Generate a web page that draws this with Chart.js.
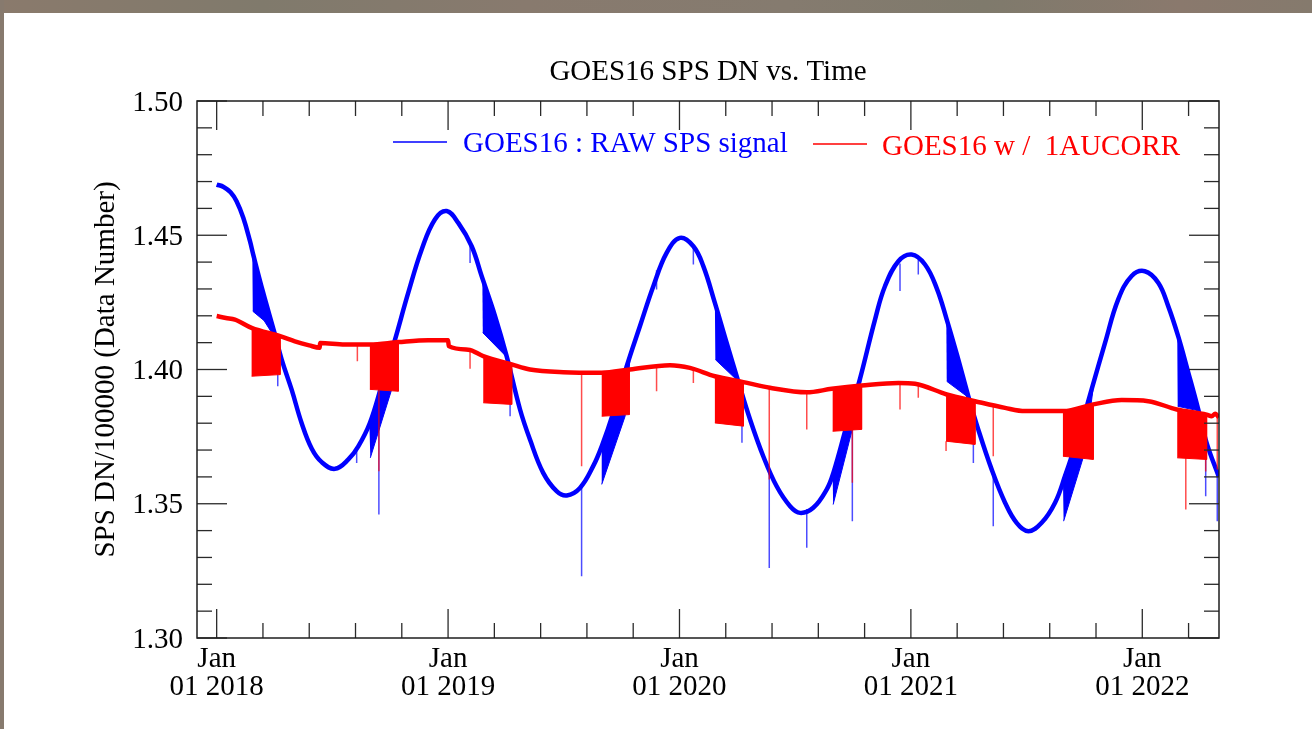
<!DOCTYPE html>
<html><head><meta charset="utf-8">
<script src="https://cdn.jsdelivr.net/npm/chart.js@4.4.1/dist/chart.umd.min.js"></script>
<style>
html,body{margin:0;padding:0;background:#fff;overflow:hidden;}
#wrap{position:relative;width:1312px;height:729px;background:#fff;}
#topbar{position:absolute;left:0;top:0;width:1312px;height:13px;background:linear-gradient(90deg,#8a7a6c 0%,#807a6c 20%,#887a6e 40%,#857b6f 60%,#7f7a6c 75%,#8a796d 90%,#857a6d 100%);}
#leftbar{position:absolute;left:0;top:0;width:4px;height:729px;background:#877a6e;}
canvas{position:absolute;left:0;top:0;}
</style></head><body>
<div id="wrap"><div id="topbar"></div><div id="leftbar"></div><canvas id="c" width="1312" height="729"></canvas></div>
<script>
// ---- data (time in fractional years) ----
const rawT = [2018.000,2018.030,2018.060,2018.086,2018.115,2018.144,2018.158,2018.201,2018.252,2018.281,2018.324,2018.367,2018.411,2018.454,2018.511,2018.569,2018.612,2018.662,2018.713,2018.771,2018.828,2018.886,2018.943,2018.994,2019.044,2019.102,2019.145,2019.203,2019.253,2019.311,2019.354,2019.411,2019.469,2019.513,2019.570,2019.627,2019.664,2019.714,2019.772,2019.829,2019.887,2019.945,2020.002,2020.060,2020.103,2020.153,2020.204,2020.254,2020.305,2020.362,2020.420,2020.478,2020.521,2020.578,2020.636,2020.665,2020.722,2020.780,2020.845,2020.888,2020.946,2021.003,2021.061,2021.111,2021.155,2021.205,2021.248,2021.291,2021.349,2021.407,2021.457,2021.508,2021.565,2021.623,2021.666,2021.723,2021.781,2021.839,2021.896,2021.954,2022.011,2022.069,2022.112,2022.155,2022.199,2022.242,2022.278,2022.331];
const rawV = [1.4689,1.4680,1.4660,1.4627,1.4565,1.4478,1.4428,1.4286,1.4130,1.4037,1.3925,1.3801,1.3705,1.3655,1.3630,1.3665,1.3714,1.3801,1.3942,1.4112,1.4286,1.4447,1.4559,1.4590,1.4546,1.4459,1.4348,1.4199,1.4050,1.3851,1.3739,1.3615,1.3547,1.3531,1.3559,1.3640,1.3714,1.3839,1.4012,1.4161,1.4310,1.4435,1.4490,1.4459,1.4385,1.4248,1.4099,1.3956,1.3814,1.3677,1.3565,1.3491,1.3466,1.3485,1.3553,1.3615,1.3790,1.3965,1.4186,1.4310,1.4403,1.4428,1.4391,1.4304,1.4186,1.4037,1.3901,1.3777,1.3628,1.3504,1.3429,1.3398,1.3429,1.3504,1.3603,1.3752,1.3926,1.4099,1.4261,1.4348,1.4366,1.4323,1.4236,1.4124,1.3988,1.3851,1.3727,1.3600];

const corrT = [2018.000,2018.040,2018.079,2018.151,2018.274,2018.338,2018.400,2018.445,2018.447,2018.554,2018.662,2018.785,2018.914,2019.000,2019.003,2019.087,2019.152,2019.275,2019.354,2019.498,2019.664,2019.786,2019.959,2020.045,2020.153,2020.276,2020.391,2020.550,2020.658,2020.787,2020.946,2021.018,2021.155,2021.277,2021.407,2021.493,2021.659,2021.788,2021.911,2022.026,2022.149,2022.278,2022.300,2022.315,2022.331];
const corrV = [1.4199,1.4192,1.4186,1.4155,1.4124,1.4105,1.4090,1.4081,1.4099,1.4093,1.4093,1.4102,1.4109,1.4109,1.4087,1.4074,1.4050,1.4019,1.4000,1.3990,1.3988,1.4000,1.4016,1.4006,1.3975,1.3953,1.3932,1.3915,1.3928,1.3940,1.3950,1.3947,1.3907,1.3882,1.3857,1.3845,1.3845,1.3870,1.3886,1.3882,1.3851,1.3832,1.3826,1.3835,1.3822];

// seasonal oscillation envelopes (outline vertices, [time, value])
const blueBands = [
  [[2018.154,1.4440],[2018.201,1.4286],[2018.259,1.4108],[2018.205,1.4182],[2018.156,1.4217]],
  [[2018.660,1.3795],[2018.713,1.3942],[2018.775,1.4125],[2018.756,1.3925],[2018.664,1.3671]],
  [[2019.148,1.4345],[2019.203,1.4199],[2019.255,1.4045],[2019.150,1.4137]],
  [[2019.664,1.3714],[2019.714,1.3839],[2019.787,1.4050],[2019.765,1.3826],[2019.664,1.3572]],
  [[2020.153,1.4248],[2020.204,1.4099],[2020.254,1.3956],[2020.155,1.4037]],
  [[2020.662,1.3608],[2020.722,1.3790],[2020.790,1.3995],[2020.765,1.3839],[2020.664,1.3497]],
  [[2021.153,1.4190],[2021.205,1.4037],[2021.250,1.3895],[2021.155,1.3956]],
  [[2021.657,1.3595],[2021.723,1.3752],[2021.790,1.3945],[2021.751,1.3690],[2021.660,1.3435]],
  [[2022.151,1.4137],[2022.199,1.3988],[2022.249,1.3845],[2022.153,1.3863]]
];
const redBands = [
  [[2018.151,1.4155],[2018.274,1.4124],[2018.274,1.3981],[2018.151,1.3975]],
  [[2018.662,1.4093],[2018.785,1.4102],[2018.785,1.3919],[2018.662,1.3926]],
  [[2019.152,1.4050],[2019.275,1.4019],[2019.275,1.3870],[2019.152,1.3876]],
  [[2019.664,1.3988],[2019.783,1.4000],[2019.783,1.3832],[2019.664,1.3826]],
  [[2020.153,1.3975],[2020.276,1.3953],[2020.276,1.3789],[2020.153,1.3801]],
  [[2020.662,1.3928],[2020.787,1.3940],[2020.787,1.3777],[2020.662,1.3770]],
  [[2021.152,1.3907],[2021.277,1.3882],[2021.277,1.3721],[2021.152,1.3733]],
  [[2021.657,1.3845],[2021.788,1.3870],[2021.788,1.3665],[2021.657,1.3677]],
  [[2022.151,1.3851],[2022.278,1.3832],[2022.278,1.3665],[2022.151,1.3671]]
];
// dropouts: [time, from, to]
const blueSpikes = [[2018.264,1.4080,1.3938],[2018.605,1.3705,1.3652],[2018.701,1.3900,1.3460],[2019.095,1.4470,1.4397],[2019.268,1.4000,1.3826],[2019.577,1.3565,1.3230],[2019.901,1.4370,1.4298],[2020.060,1.4459,1.4391],[2020.270,1.3930,1.3727],[2020.388,1.3640,1.3261],[2020.550,1.3480,1.3336],[2020.747,1.3850,1.3435],[2020.953,1.4395,1.4292],[2021.032,1.4420,1.4354],[2021.270,1.3800,1.3652],[2021.356,1.3615,1.3416],[2022.274,1.3740,1.3528],[2022.324,1.3620,1.3435]];
const redSpikes = [[2018.608,1.4092,1.4031],[2018.701,1.3925,1.3621],[2019.095,1.4075,1.4003],[2019.577,1.3990,1.3640],[2019.901,1.4012,1.3919],[2020.060,1.4005,1.3950],[2020.388,1.3932,1.3590],[2020.550,1.3915,1.3777],[2020.747,1.3775,1.3578],[2020.953,1.3950,1.3851],[2021.032,1.3947,1.3895],[2021.152,1.3733,1.3696],[2021.356,1.3865,1.3677],[2022.188,1.3670,1.3479],[2022.274,1.3670,1.3620],[2022.324,1.3826,1.3628]];

const yTickValues = [1.30,1.35,1.40,1.45,1.50];
const yTickLabels = ['1.30','1.35','1.40','1.45','1.50'];
const yMinorStep = 0.01;
const xTickYears = [2018,2019,2020,2021,2022];
const xTickLabels = [['Jan','01 2018'],['Jan','01 2019'],['Jan','01 2020'],['Jan','01 2021'],['Jan','01 2022']];
const xMinorPerYear = 5;
const xRange = [2017.915, 2022.3315];
const yRange = [1.30, 1.50];
const seriesLabels = ['GOES16 : RAW SPS signal', 'GOES16 w /  1AUCORR'];
const seriesColors = ['#0000ff', '#ff0000'];
const chartTitle = 'GOES16 SPS DN vs. Time';
const yTitle = 'SPS DN/100000 (Data Number)';

// ---- build datasets ----
const FONT = "'Liberation Serif', 'Times New Roman', serif";
const FS = 29;
const pts = (T, V) => T.map((t, i) => ({x: t, y: V[i]}));
const spikePts = S => S.flatMap(s => [{x: s[0], y: s[1]}, {x: s[0], y: s[2]}, {x: s[0], y: null}]);
const polyDs = (poly, color, order) => ({
  data: poly.map(p => ({x: p[0], y: p[1]})), borderColor: color, backgroundColor: color,
  borderWidth: 1, fill: 'shape', tension: 0, pointRadius: 0, order
});

const datasets = [];
datasets.push({label: seriesLabels[0], data: pts(rawT, rawV), borderColor: seriesColors[0], borderWidth: 4.5,
  pointRadius: 0, fill: false, tension: 0.4, order: 6});
blueBands.forEach(b => datasets.push(polyDs(b, seriesColors[0], 5)));
datasets.push({data: spikePts(blueSpikes), borderColor: 'rgba(0,0,255,0.7)', borderWidth: 1.5, pointRadius: 0,
  fill: false, spanGaps: false, tension: 0, order: 4});
datasets.push({label: seriesLabels[1], data: pts(corrT, corrV), borderColor: seriesColors[1], borderWidth: 4.5,
  pointRadius: 0, fill: false, tension: 0.3, cubicInterpolationMode: 'monotone', order: 3});
redBands.forEach(b => datasets.push(polyDs(b, seriesColors[1], 2)));
datasets.push({data: spikePts(redSpikes), borderColor: 'rgba(255,0,0,0.7)', borderWidth: 1.5, pointRadius: 0,
  fill: false, spanGaps: false, tension: 0, order: 1});

const frameTicks = {
  id: 'frameTicks',
  afterDatasetsDraw(chart) {
    const {ctx, chartArea: a, scales: {x, y}} = chart;
    ctx.save();
    ctx.strokeStyle = '#2a2a2a';
    ctx.lineWidth = 1.3;
    const seg = (x1, y1, x2, y2) => { ctx.beginPath(); ctx.moveTo(x1, y1); ctx.lineTo(x2, y2); ctx.stroke(); };
    const n = Math.round((yRange[1] - yRange[0]) / yMinorStep);
    for (let i = 0; i <= n; i++) {
      const v = yRange[0] + i * yMinorStep;
      const py = y.getPixelForValue(v);
      const L = (i % 5 === 0) ? 30 : 15;
      seg(a.left, py, a.left + L, py);
      seg(a.right, py, a.right - L, py);
    }
    for (let yr = xTickYears[0] - 1; yr <= xTickYears[xTickYears.length - 1] + 1; yr++) {
      for (let k = 0; k < xMinorPerYear; k++) {
        const v = yr + k / xMinorPerYear;
        if (v < x.min || v > x.max) continue;
        const px = x.getPixelForValue(v);
        const L = k === 0 ? 29 : 15;
        seg(px, a.bottom, px, a.bottom - L);
        seg(px, a.top, px, a.top + L);
      }
    }
    ctx.lineWidth = 1.5;
    ctx.strokeStyle = '#1e1e1e';
    ctx.strokeRect(a.left, a.top, a.right - a.left, a.bottom - a.top);
    ctx.restore();
  }
};

const insideLegend = {
  id: 'insideLegend',
  afterDraw(chart) {
    const {ctx, chartArea: a} = chart;
    const items = [
      {lx1: a.left + 196, lx2: a.left + 250, ly: a.top + 41, tx: a.left + 266, ty: a.top + 51},
      {lx1: a.left + 616, lx2: a.left + 670, ly: a.top + 43, tx: a.left + 685, ty: a.top + 54}
    ];
    ctx.save();
    ctx.font = FS + 'px ' + FONT;
    ctx.textBaseline = 'alphabetic';
    ctx.textAlign = 'left';
    items.forEach((it, i) => {
      ctx.strokeStyle = seriesColors[i];
      ctx.lineWidth = 1.3;
      ctx.beginPath(); ctx.moveTo(it.lx1, it.ly); ctx.lineTo(it.lx2, it.ly); ctx.stroke();
      ctx.fillStyle = seriesColors[i];
      ctx.fillText(seriesLabels[i], it.tx, it.ty);
    });
    ctx.restore();
  }
};

new Chart(document.getElementById('c'), {
  type: 'line',
  data: {datasets},
  options: {
    responsive: false,
    animation: false,
    devicePixelRatio: 1,
    events: [],
    layout: {padding: {left: 0, right: 93, top: 0, bottom: 0}},
    plugins: {
      legend: {display: false},
      tooltip: {enabled: false},
      title: {
        display: true, text: chartTitle, fullSize: false, color: '#000',
        font: {family: FONT, size: FS, weight: 'normal', lineHeight: 1.2},
        padding: {top: 54.6, bottom: 11.6}
      }
    },
    scales: {
      x: {
        type: 'linear', min: xRange[0], max: xRange[1],
        grid: {display: false, drawTicks: false}, border: {display: false},
        afterBuildTicks: s => { s.ticks = xTickYears.map(v => ({value: v})); },
        afterFit: s => { s.height = 91; },
        ticks: {
          autoSkip: false, maxRotation: 0, minRotation: 0, padding: 7, color: '#000',
          font: {family: FONT, size: FS, lineHeight: 0.976},
          callback: (v, i) => xTickLabels[i]
        }
      },
      y: {
        type: 'linear', min: yRange[0], max: yRange[1],
        grid: {display: false, drawTicks: false}, border: {display: false},
        afterBuildTicks: s => { s.ticks = yTickValues.map(v => ({value: v})); },
        afterFit: s => { s.width = 197; },
        ticks: {
          padding: 14, color: '#000', labelOffset: 2,
          font: {family: FONT, size: FS},
          callback: (v, i) => yTickLabels[i]
        },
        title: {
          display: true, text: yTitle, color: '#000',
          font: {family: FONT, size: FS, lineHeight: 1.2},
          padding: {top: 88.6, bottom: 0}
        }
      }
    }
  },
  plugins: [frameTicks, insideLegend]
});
</script>
</body></html>
